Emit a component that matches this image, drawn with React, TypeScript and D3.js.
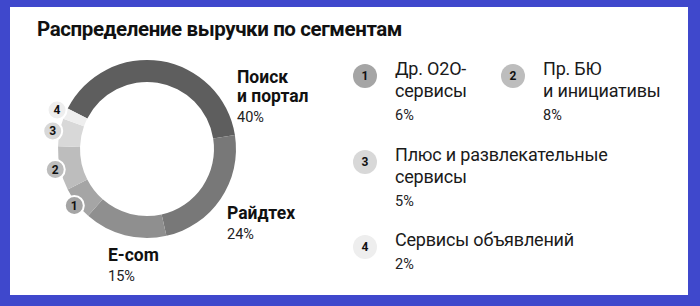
import React from "react";
import * as d3 from "d3";

const title = "Распределение выручки по сегментам";
const segments = ["Поиск и портал", "Райдтех", "E-com", "Др. О2О-сервисы", "Пр. БЮ и инициативы", "Плюс и развлекательные сервисы", "Сервисы объявлений"];
const shares = [40, 24, 15, 6, 8, 5, 2];
const shareLabels = ["40%", "24%", "15%", "6%", "8%", "5%", "2%"];
const bigLabelLines = [["Поиск", "и портал"], ["Райдтех"], ["E-com"]];
const legendLines = [["Др. О2О-", "сервисы"], ["Пр. БЮ", "и инициативы"], ["Плюс и развлекательные", "сервисы"], ["Сервисы объявлений"]];
const greys = ["#5e5e5e", "#787878", "#8f8f8f", "#a5a5a5", "#bdbdbd", "#d8d8d8", "#eeeeee"];

const W = 700;
const H = 306;
const cx = 147;
const cy = 149;
const font = "Roboto, 'DejaVu Sans', sans-serif";

// where the big labels sit (first baseline)
const bigLabelPos = [
    { x: 237, y: 83 },
    { x: 227, y: 219 },
    { x: 108, y: 261 },
];
// legend slots: text start x, first baseline y
const legendPos = [
    { x: 395, y: 75 },
    { x: 543, y: 75 },
    { x: 395, y: 161 },
    { x: 395, y: 246 },
];

const App = () => {
    const startDeg = -63;
    const pie = d3
        .pie<number>()
        .sort(null)
        .value((d) => d)
        .startAngle((startDeg * Math.PI) / 180)
        .endAngle(((startDeg + 360) * Math.PI) / 180);
    const arcs = pie(shares);
    const arc = d3.arc<d3.PieArcDatum<number>>().innerRadius(67).outerRadius(89);
    // small badges sit just outside the ring, pushed a bit further out as they crowd
    const badgeR = (j: number) => 92 + j * 2;

    return (
        <svg width={W} height={H} style={{ position: "absolute", left: 0, top: 0, display: "block" }} fontFamily={font}>
            <rect x={0} y={0} width={W} height={H} fill="#3f48cc" />
            <rect x={10} y={7} width={678} height={288} fill="#ffffff" />
            <text x={37} y={36} fontSize={20.5} fontWeight={700} letterSpacing={-0.4} fill="#111">
                {title}
            </text>

            <g transform={`translate(${cx},${cy})`}>
                {arcs.map((a, i) => (
                    <path key={segments[i]} d={arc(a) || ""} fill={greys[i]} />
                ))}
                {arcs.slice(3).map((a, j) => {
                    const r = badgeR(j);
                    const [bx, by] = d3.arc<d3.PieArcDatum<number>>().innerRadius(r).outerRadius(r).centroid(a);
                    return (
                        <g key={"b" + j} transform={`translate(${bx},${by})`}>
                            <circle r={9.5} fill={greys[j + 3]} stroke="#fff" strokeWidth={2} />
                            <text textAnchor="middle" dy="0.36em" fontSize={12} fontWeight={700} fill="#111">
                                {j + 1}
                            </text>
                        </g>
                    );
                })}
            </g>

            {bigLabelLines.map((lines, i) => (
                <g key={"l" + i}>
                    {lines.map((t, k) => (
                        <text key={k} x={bigLabelPos[i].x} y={bigLabelPos[i].y + k * 19} fontSize={17.5} fontWeight={700} fill="#111">
                            {t}
                        </text>
                    ))}
                    <text x={bigLabelPos[i].x} y={bigLabelPos[i].y + (lines.length - 1) * 19 + 20} fontSize={14.5} fill="#222">
                        {shareLabels[i]}
                    </text>
                </g>
            ))}

            {legendLines.map((lines, j) => {
                const p = legendPos[j];
                return (
                    <g key={"g" + j}>
                        <circle cx={p.x - 30} cy={p.y + 1} r={12} fill={greys[j + 3]} />
                        <text x={p.x - 30} y={p.y + 1} dy="0.36em" textAnchor="middle" fontSize={12} fontWeight={700} fill="#111">
                            {j + 1}
                        </text>
                        {lines.map((t, k) => (
                            <text key={k} x={p.x} y={p.y + k * 22} fontSize={18} letterSpacing={-0.2} fill="#1a1a1a">
                                {t}
                            </text>
                        ))}
                        <text x={p.x} y={p.y + lines.length * 22 + 1} fontSize={14.5} fill="#222">
                            {shareLabels[j + 3]}
                        </text>
                    </g>
                );
            })}
        </svg>
    );
};

export default App;
